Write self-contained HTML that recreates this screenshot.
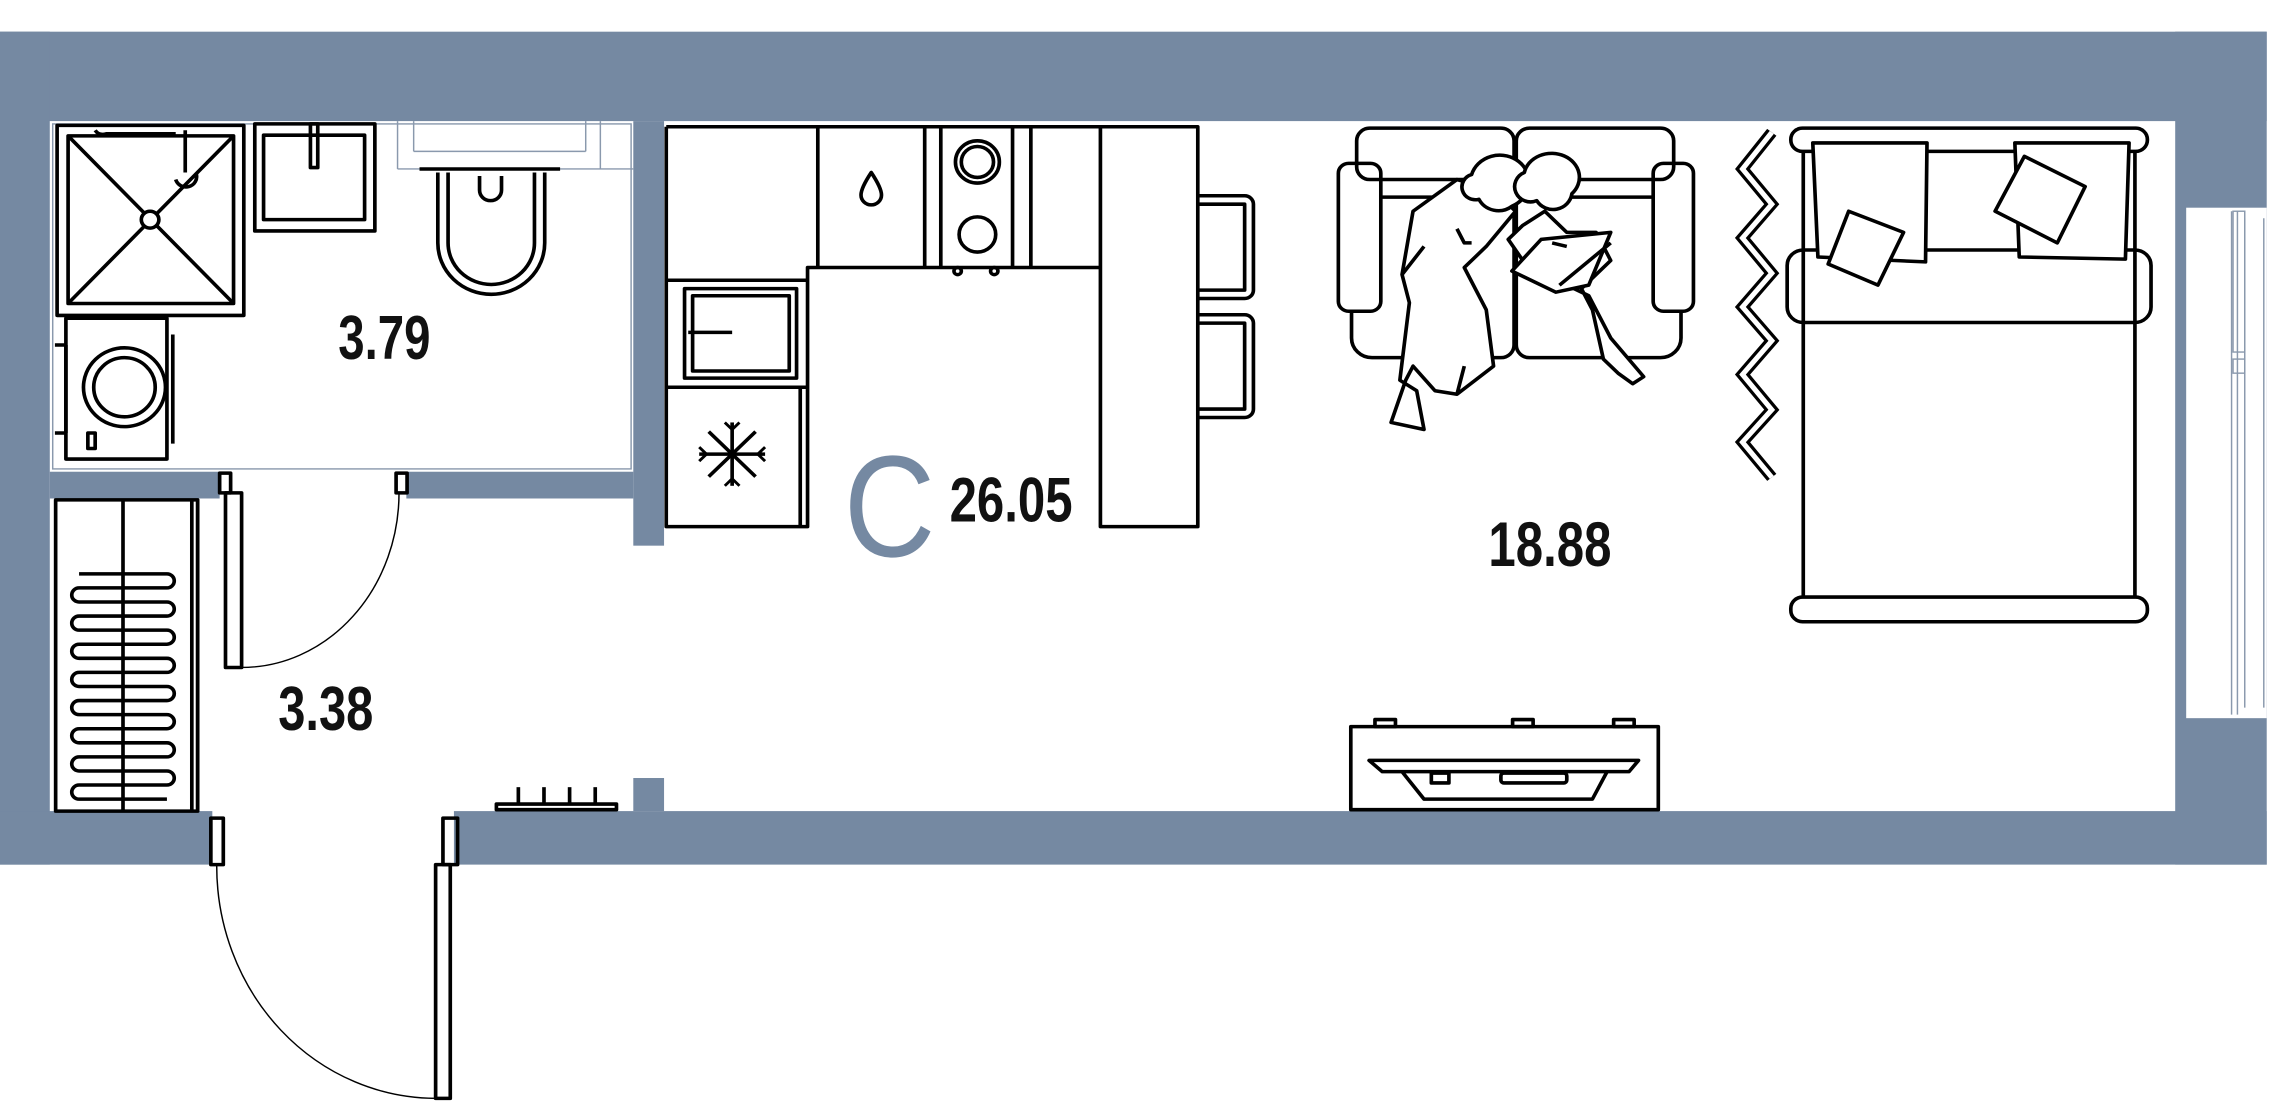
<!DOCTYPE html>
<html><head><meta charset="utf-8"><style>
html,body{margin:0;padding:0;background:#fff;width:2296px;height:1104px;overflow:hidden}
svg{display:block}
text{font-family:"Liberation Sans",sans-serif;fill:#111}
</style></head><body>
<svg width="2296" height="1104" viewBox="0 0 3136 1568" preserveAspectRatio="none" xmlns="http://www.w3.org/2000/svg">
<g fill="#7589a2">
<rect x="0" y="45" width="3096" height="127"/>
<rect x="0" y="45" width="68" height="1183"/>
<rect x="0" y="1152" width="290" height="76"/>
<rect x="620" y="1152" width="2476" height="76"/>
<rect x="2971" y="45" width="125" height="1183"/>
<rect x="865" y="172" width="42" height="603"/>
<rect x="68" y="670" width="232" height="38"/>
<rect x="555" y="670" width="310" height="38"/>
<rect x="865" y="1105" width="42" height="47"/>
</g>
<rect x="2986" y="295" width="110" height="725" fill="#fff"/>
<g fill="none" stroke="#8a99ad" stroke-width="2">
<line x1="3048" y1="300" x2="3048" y2="1015"/><line x1="3056" y1="300" x2="3056" y2="1015"/>
<line x1="3066" y1="310" x2="3066" y2="1005"/><line x1="3092" y1="310" x2="3092" y2="1005"/>
<rect x="3050" y="300" width="16" height="200"/><rect x="3050" y="510" width="16" height="20"/>
<rect x="72" y="176" width="790" height="490"/>
<line x1="543" y1="172" x2="543" y2="240"/><line x1="565" y1="172" x2="565" y2="215"/>
<line x1="565" y1="215" x2="800" y2="215"/><line x1="543" y1="240" x2="865" y2="240"/>
<line x1="800" y1="172" x2="800" y2="215"/><line x1="820" y1="172" x2="820" y2="240"/>
</g>
<g fill="none" stroke="#000" stroke-width="5" stroke-linejoin="round">
<rect x="78" y="178" width="255" height="270"/>
<rect x="93" y="193" width="226" height="238"/>
<line x1="93" y1="193" x2="319" y2="431"/><line x1="319" y1="193" x2="93" y2="431"/>
<circle cx="205" cy="312" r="12" fill="#fff"/>
<path d="M130 185 q5 8 15 5 h95 M253 185 v60 M240 255 a14 14 0 1 0 28 -8"/>
<rect x="90" y="452" width="138" height="200"/>
<line x1="75" y1="490" x2="90" y2="490"/><line x1="75" y1="615" x2="90" y2="615"/><line x1="90" y1="490" x2="90" y2="615"/>
<line x1="236" y1="475" x2="236" y2="630"/>
<circle cx="170" cy="550" r="56"/><circle cx="170" cy="550" r="42"/>
<rect x="120" y="615" width="10" height="22"/>
<rect x="348" y="176" width="164" height="152"/>
<rect x="360" y="192" width="138" height="120"/>
<rect x="424" y="176" width="10" height="62"/>
<line x1="573" y1="240" x2="765" y2="240"/>
<path d="M598 245 V345 a73 73 0 0 0 146 0 V245"/>
<path d="M612 245 V345 a59 59 0 0 0 118 0 V245"/>
<path d="M655 250 v20 a15 15 0 0 0 30 0 v-20"/>
<rect x="76" y="710" width="194" height="442"/>
<line x1="168" y1="710" x2="168" y2="1152"/>
<line x1="262" y1="712" x2="262" y2="1150"/><line x1="270" y1="712" x2="270" y2="1150"/>
<path d="M108 815 H228 a10 10 0 0 1 0 20 H108 a10 10 0 0 0 0 20 H228 a10 10 0 0 1 0 20 H108 a10 10 0 0 0 0 20 H228 a10 10 0 0 1 0 20 H108 a10 10 0 0 0 0 20 H228 a10 10 0 0 1 0 20 H108 a10 10 0 0 0 0 20 H228 a10 10 0 0 1 0 20 H108 a10 10 0 0 0 0 20 H228 a10 10 0 0 1 0 20 H108 a10 10 0 0 0 0 20 H228 a10 10 0 0 1 0 20 H108 a10 10 0 0 0 0 20 H228 a10 10 0 0 1 0 20 H108 a10 10 0 0 0 0 20 H228"/>
<rect x="678" y="1142" width="164" height="8"/>
<line x1="708" y1="1118" x2="708" y2="1142"/><line x1="743" y1="1118" x2="743" y2="1142"/><line x1="778" y1="1118" x2="778" y2="1142"/><line x1="813" y1="1118" x2="813" y2="1142"/>
<path d="M910 180 H1503 M910 180 V748 H1103 V380 H1503"/>
<line x1="910" y1="398" x2="1103" y2="398"/><line x1="910" y1="550" x2="1103" y2="550"/>
<line x1="1093" y1="550" x2="1093" y2="748"/>
<rect x="935" y="410" width="153" height="127"/><rect x="946" y="420" width="132" height="107"/>
<line x1="940" y1="472" x2="1000" y2="472"/>
<line x1="1117" y1="180" x2="1117" y2="380"/>
<line x1="1263" y1="180" x2="1263" y2="380"/><line x1="1285" y1="180" x2="1285" y2="380"/>
<line x1="1383" y1="180" x2="1383" y2="380"/><line x1="1408" y1="180" x2="1408" y2="380"/>
<rect x="1503" y="180" width="133" height="568"/>
<path d="M1190 245 q-14 22 -14 32 a14 14 0 0 0 28 0 q0 -10 -14 -32z"/>
<circle cx="1335" cy="230" r="30"/><circle cx="1335" cy="230" r="22"/>
<circle cx="1335" cy="333" r="25"/>
<circle cx="1308" cy="385" r="5"/><circle cx="1358" cy="385" r="5"/>
<g transform="translate(1000 645)">
<line x1="-45" y1="0" x2="45" y2="0"/><line x1="0" y1="-45" x2="0" y2="45"/>
<line x1="-32" y1="-32" x2="32" y2="32"/><line x1="-32" y1="32" x2="32" y2="-32"/>
<path d="M-10 -45 L0 -35 L10 -45 M-10 45 L0 35 L10 45 M-45 -10 L-35 0 L-45 10 M45 -10 L35 0 L45 10" stroke-width="4"/>
</g>
<path d="M1636 278 H1700 a12 12 0 0 1 12 12 V412 a12 12 0 0 1 -12 12 H1636 M1636 290 H1700 V412 H1636"/>
<path d="M1636 447 H1700 a12 12 0 0 1 12 12 V581 a12 12 0 0 1 -12 12 H1636 M1636 459 H1700 V581 H1636"/>
<rect x="1853" y="182" width="215" height="73" rx="18"/>
<rect x="2071" y="182" width="215" height="73" rx="18"/>
<rect x="1828" y="232" width="58" height="210" rx="14"/>
<rect x="2258" y="232" width="55" height="210" rx="14"/>
<path d="M1846 442 V480 a28 28 0 0 0 28 28 H2050 a18 18 0 0 0 18 -18 V280 H1886"/>
<path d="M2071 280 V490 a18 18 0 0 0 18 18 H2268 a28 28 0 0 0 28 -28 V442 M2071 280 H2258"/>
<g fill="#fff">
<path d="M1930 300 L1990 255 L2040 270 L2070 300 L2030 350 L2000 380 L2030 440 L2040 520 L1990 560 L1960 555 L1930 520 L1920 540 L1900 600 L1945 610 L1935 555 L1912 540 L1925 430 L1915 390 Z"/>
<path d="M2080 320 L2110 300 L2140 330 L2180 330 L2200 370 L2160 410 L2175 440 L2190 510 L2210 530 L2230 545 L2245 535 L2200 480 L2170 420 L2130 400 L2080 370 L2060 340 Z"/>
<path d="M2065 385 L2105 340 L2200 330 L2170 405 L2125 415 Z"/>
<path d="M2010 248 a40 38 0 1 1 55 45 a30 30 0 0 1 -45 -10 a18 18 0 0 1 -10 -35 Z"/>
<path d="M2082 245 a38 34 0 1 1 65 30 a26 26 0 0 1 -48 10 a14 14 0 0 1 -17 -40 Z"/>
</g>
<path d="M1915 390 L1945 350 M1990 325 L2000 345 L2010 345 M2120 345 L2140 350 M2130 405 L2200 345 M1990 560 L2000 520"/>
<rect x="2446" y="182" width="487" height="33" rx="16"/>
<path d="M2463 215 V848 M2916 215 V848"/>
<rect x="2441" y="355" width="497" height="103" rx="22"/>
<rect x="2446" y="848" width="487" height="35" rx="16"/>
<path d="M2476 203 L2632 203 L2630 372 L2483 365 Z" fill="#fff"/>
<path d="M2752 203 L2908 203 L2903 368 L2758 365 Z" fill="#fff"/>
<path d="M2525 300 L2600 330 L2565 405 L2497 375 Z" fill="#fff"/>
<path d="M2765 222 L2848 265 L2810 345 L2725 300 Z" fill="#fff"/>
<rect x="1845" y="1032" width="420" height="118"/>
<rect x="1878" y="1022" width="28" height="10"/><rect x="2066" y="1022" width="28" height="10"/><rect x="2204" y="1022" width="28" height="10"/>
<path d="M1870 1080 H2238 L2225 1096 H1888 Z"/>
<path d="M1915 1096 L1945 1135 H2175 L2195 1096"/>
<rect x="1955" y="1098" width="24" height="14"/><rect x="2050" y="1098" width="90" height="14" rx="4"/>
<rect x="300" y="672" width="15" height="28"/><rect x="541" y="672" width="15" height="28"/>
<rect x="308" y="700" width="22" height="248"/>
<rect x="288" y="1162" width="17" height="66"/>
<rect x="605" y="1162" width="20" height="66"/>
<rect x="595" y="1228" width="20" height="332"/>
</g>
<path d="M2420 188 L2380 240 L2420 290 L2380 338 L2420 388 L2380 436 L2420 484 L2380 532 L2420 582 L2380 628 L2420 678" fill="none" stroke="#000" stroke-width="16" stroke-linejoin="miter"/>
<path d="M2420 188 L2380 240 L2420 290 L2380 338 L2420 388 L2380 436 L2420 484 L2380 532 L2420 582 L2380 628 L2420 678" fill="none" stroke="#fff" stroke-width="7" stroke-linejoin="miter"/>
<g fill="none" stroke="#000" stroke-width="2">
<path d="M545 700 A215 248 0 0 1 330 948"/>
<path d="M296 1230 A300 330 0 0 0 595 1560"/>
</g>
<text x="525" y="510" font-size="88" text-anchor="middle" textLength="126" lengthAdjust="spacingAndGlyphs" font-weight="bold">3.79</text>
<text x="445" y="1037" font-size="88" text-anchor="middle" textLength="130" lengthAdjust="spacingAndGlyphs" font-weight="bold">3.38</text>
<text x="1381" y="741" font-size="90" text-anchor="middle" textLength="168" lengthAdjust="spacingAndGlyphs" font-weight="bold">26.05</text>
<text x="2117" y="804" font-size="90" text-anchor="middle" textLength="168" lengthAdjust="spacingAndGlyphs" font-weight="bold">18.88</text>
<text x="1215" y="790" font-size="205" text-anchor="middle" style="fill:#7589a2" textLength="125" lengthAdjust="spacingAndGlyphs">C</text>
</svg>
</body></html>
